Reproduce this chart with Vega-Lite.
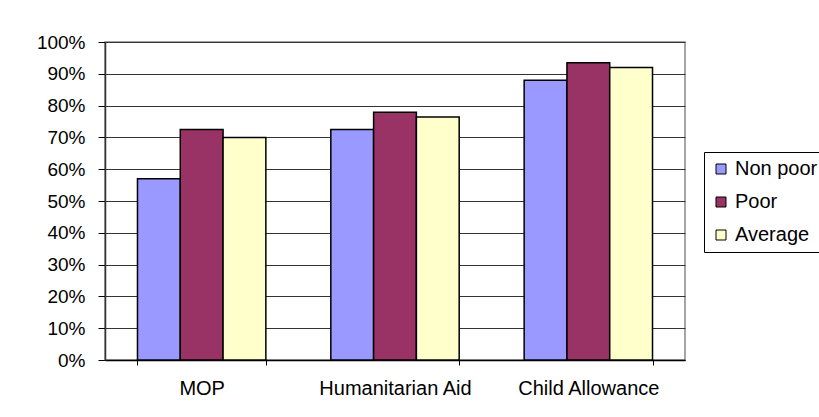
{
  "$schema": "https://vega.github.io/schema/vega-lite/v6.json",
  "autosize": {"type": "none"},
  "width": 580,
  "height": 318,
  "padding": {"left": 105, "top": 42, "right": 134, "bottom": 57},
  "background": "white",
  "data": {
    "values": [
      {"program": "MOP", "group": "Non poor", "value": 0.57},
      {"program": "MOP", "group": "Poor", "value": 0.725},
      {"program": "MOP", "group": "Average", "value": 0.70},
      {"program": "Humanitarian Aid", "group": "Non poor", "value": 0.725},
      {"program": "Humanitarian Aid", "group": "Poor", "value": 0.779},
      {"program": "Humanitarian Aid", "group": "Average", "value": 0.764},
      {"program": "Child Allowance", "group": "Non poor", "value": 0.88},
      {"program": "Child Allowance", "group": "Poor", "value": 0.935},
      {"program": "Child Allowance", "group": "Average", "value": 0.92}
    ]
  },
  "mark": {"type": "bar", "stroke": "black", "strokeWidth": 1.5},
  "encoding": {
    "x": {
      "field": "program",
      "type": "nominal",
      "sort": ["MOP", "Humanitarian Aid", "Child Allowance"],
      "scale": {"paddingInner": 0.336, "paddingOuter": 0.168},
      "axis": {
        "title": null,
        "labelAngle": 0,
        "labelFont": "Liberation Sans",
        "labelFontSize": 20,
        "labelColor": "black",
        "labelPadding": 13,
        "tickBand": "extent",
        "ticks": true,
        "tickSize": 5,
        "tickColor": "black",
        "domainColor": "black",
        "domainWidth": 1.5
      }
    },
    "xOffset": {
      "field": "group",
      "type": "nominal",
      "sort": ["Non poor", "Poor", "Average"],
      "scale": {"paddingInner": 0, "paddingOuter": 0}
    },
    "y": {
      "field": "value",
      "type": "quantitative",
      "scale": {"domain": [0, 1], "nice": false},
      "axis": {
        "title": null,
        "values": [0, 0.1, 0.2, 0.3, 0.4, 0.5, 0.6, 0.7, 0.8, 0.9, 1],
        "format": ".0%",
        "labelFont": "Liberation Sans",
        "labelFontSize": 19,
        "labelColor": "black",
        "labelPadding": 13,
        "tickSize": 7,
        "tickColor": "black",
        "domainColor": "#333",
        "domainWidth": 1.5,
        "grid": true,
        "gridColor": "#333",
        "gridWidth": 1
      }
    },
    "color": {
      "field": "group",
      "type": "nominal",
      "sort": ["Non poor", "Poor", "Average"],
      "scale": {"domain": ["Non poor", "Poor", "Average"], "range": ["#9999FF", "#993366", "#FFFFCC"]},
      "legend": {
        "title": null,
        "orient": "none",
        "legendX": 599,
        "legendY": 110,
        "strokeColor": "black",
        "fillColor": "white",
        "padding": 7,
        "symbolType": "square",
        "symbolSize": 100,
        "symbolStrokeColor": "black",
        "symbolStrokeWidth": 1,
        "symbolOpacity": 1,
        "labelFont": "Liberation Sans",
        "labelFontSize": 20,
        "labelColor": "black",
        "labelOffset": 4,
        "rowPadding": 13,
        "labelLimit": 200
      }
    }
  },
  "config": {
    "view": {"stroke": "#888", "strokeWidth": 1.5}
  }
}
